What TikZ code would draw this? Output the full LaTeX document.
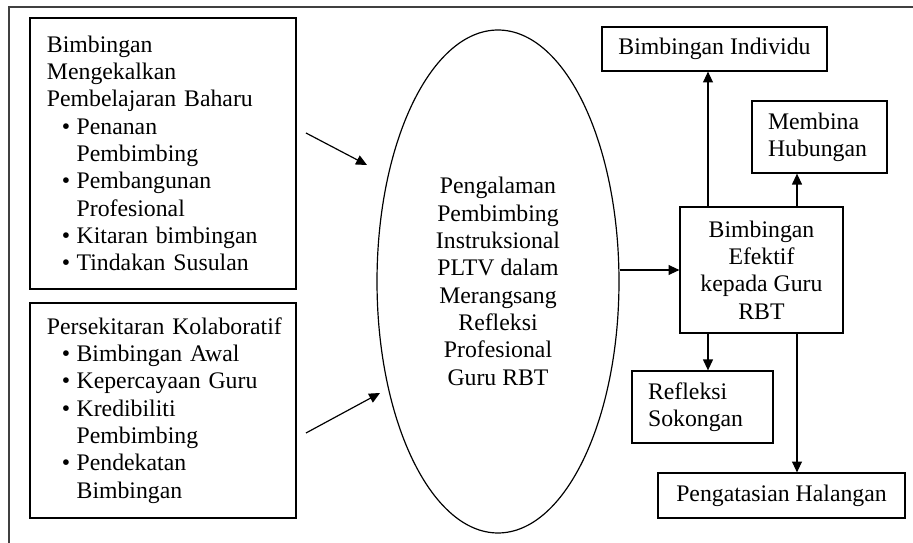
\documentclass[tikz,border=0pt]{standalone}
\usepackage{fontspec}
\setmainfont{Liberation Serif}
\usetikzlibrary{arrows.meta, shapes.geometric, calc}

\newcommand{\bul}{\hspace*{7.5pt}\makebox[7.5pt][l]{\textbullet}}
\newcommand{\ind}{\hspace*{15pt}}

\begin{document}
\begin{tikzpicture}[x=0.505pt, y=-0.505pt,
    box/.style={draw, line width=0.6pt, inner sep=0pt, font=\fontsize{12}{13.8}\selectfont},
    leftbox/.style={box, align=left},
    arr/.style={-{Triangle[length=5.5pt,width=5pt]}, line width=0.6pt}]
    \useasboundingbox (0,0) rectangle (913,543);
    \draw[line width=0.9pt, black!75] (9,543) -- (9,7) -- (913,7);

    % kotak kiri
    \node[leftbox, text width=117.2pt, inner xsep=8.6pt, minimum height=136.9pt] (mengekal) at (163,153.5)
        {Bimbingan\\ Mengekalkan\\ Pembelajaran Baharu\\ \bul Penanan\\ \ind Pembimbing\\ \bul Pembangunan\\ \ind Profesional\\ \bul Kitaran bimbingan\\ \bul Tindakan Susulan};
    \node[leftbox, text width=117.2pt, inner xsep=8.6pt, minimum height=108.6pt] (kolab) at (163,410.5)
        {\mbox{Persekitaran Kolaboratif}\\ \bul Bimbingan Awal\\ \bul Kepercayaan Guru\\ \bul Kredibiliti\\ \ind Pembimbing\\ \bul Pendekatan\\ \ind Bimbingan};

    % tengah
    \node[box, ellipse, minimum width=122.2pt, minimum height=254pt, align=center] (pengalaman) at (498,281.5)
        {Pengalaman\\ Pembimbing\\ Instruksional\\ PLTV dalam\\ Merangsang\\ Refleksi\\ Profesional\\ Guru RBT};

    % kotak kanan
    \node[box, minimum width=113.6pt, minimum height=22.2pt] (individu) at (714.5,49) {Bimbingan Individu};
    \node[leftbox, text width=52pt, inner xsep=8.1pt, minimum height=36.4pt] (hubungan) at (819.5,137) {Membina\\ Hubungan};
    \node[box, align=center, minimum width=82.3pt, minimum height=63.6pt] (efektif) at (761.5,270) {Bimbingan\\ Efektif\\ kepada Guru\\ RBT};
    \node[leftbox, text width=55pt, inner xsep=8.1pt, minimum height=36.4pt] (sokongan) at (702.5,407) {Refleksi\\ Sokongan};
    \node[box, minimum width=124.7pt, minimum height=22.7pt] (halangan) at (781.5,495.5) {Pengatasian Halangan};

    % anak panah
    \coordinate (masuk1) at (306,133);
    \coordinate (hujung1) at (367,165);
    \coordinate (masuk2) at (306,433);
    \coordinate (hujung2) at (380,393);
    \coordinate (kiri) at (708,0);
    \coordinate (kanan) at (797,0);
    \draw[arr] (masuk1) -- (hujung1);
    \draw[arr] (masuk2) -- (hujung2);
    \draw[arr] (pengalaman.east |- efektif.west) -- (efektif.west);
    \draw[arr] (efektif.north -| kiri) -- (individu.south -| kiri);
    \draw[arr] (efektif.north -| kanan) -- (hubungan.south -| kanan);
    \draw[arr] (efektif.south -| kiri) -- (sokongan.north -| kiri);
    \draw[arr] (efektif.south -| kanan) -- (halangan.north -| kanan);
\end{tikzpicture}
\end{document}
